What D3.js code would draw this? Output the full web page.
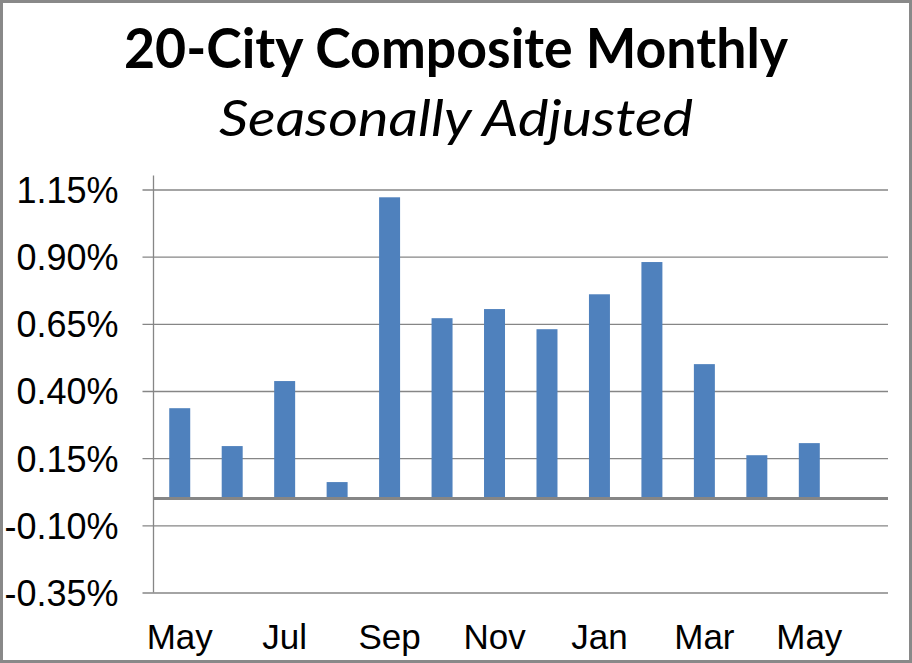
<!DOCTYPE html>
<html lang="en">
<head>
  <meta charset="UTF-8">
  <title>20-City Composite Monthly</title>
  <script src="https://cdn.jsdelivr.net/npm/d3@7"></script>
  <style>
    body { margin: 0; background: #fff; }
  </style>
</head>
<body>
  <svg width="912" height="663" id="mainsvg"></svg>
  <script>
    // one slot per month, last slot left empty like the original
    const months = ['May','Jun','Jul','Aug','Sep','Oct','Nov','Dec','Jan','Feb','Mar','Apr','May','Jun']
    const values = [0.336, 0.195, 0.437, 0.061, 1.121, 0.671, 0.705, 0.630, 0.760, 0.880, 0.500, 0.161, 0.206]
    const yTicks = [-0.35, -0.10, 0.15, 0.40, 0.65, 0.90, 1.15]

    const svg = d3.select('#mainsvg')
    const width = +svg.attr('width')
    const height = +svg.attr('height')
    const margin = {top:189.5, right:24, bottom:70.5, left:153.5}
    const innerWidth = width - margin.left - margin.right
    const innerHeight = height - margin.top - margin.bottom

    svg.append('rect')
      .attr('x',1.5).attr('y',1.5)
      .attr('width',width-3).attr('height',height-3)
      .attr('fill','#fff').attr('stroke','#898989').attr('stroke-width',3)

    svg.append('text').text('20-City Composite Monthly')
      .attr('x',width/2).attr('y',68)
      .attr('text-anchor','middle')
      .attr('font-family','Lato, "Open Sans", sans-serif')
      .attr('font-weight','bold').attr('font-size',55)
      .attr('textLength',664).attr('lengthAdjust','spacingAndGlyphs')

    svg.append('text').text('Seasonally Adjusted')
      .attr('x',width/2).attr('y',136)
      .attr('text-anchor','middle')
      .attr('font-family','Lato, "Open Sans", sans-serif')
      .attr('font-style','italic').attr('font-size',50)
      .attr('textLength',474).attr('lengthAdjust','spacingAndGlyphs')

    const g = svg.append('g').attr('transform',`translate(${margin.left},${margin.top})`)

    const xScale = d3.scaleBand()
      .domain(months.map((m,i) => i))
      .range([0,innerWidth])
      .paddingInner(0.6)
      .paddingOuter(0.3)

    const yScale = d3.scaleLinear()
      .domain([-0.35,1.15])
      .range([innerHeight,0])

    // gridlines + left ticks
    const yAxis = d3.axisLeft(yScale)
      .tickValues(yTicks)
      .tickSize(-(innerWidth + 11))
      .tickFormat(d => d.toFixed(2) + '%')
    const ya = g.append('g').attr('transform','translate(-11,0)').call(yAxis)
    ya.select('.domain').remove()
    ya.selectAll('.tick line').attr('stroke','#868686').attr('stroke-width',1.3)
    ya.selectAll('.tick text')
      .attr('x',-24).attr('dy','0.36em')
      .attr('font-family','"Liberation Sans", Arial, sans-serif')
      .attr('font-size',36).attr('fill','#000')

    // vertical axis line
    g.append('line')
      .attr('x1',0).attr('x2',0)
      .attr('y1',-14).attr('y2',innerHeight)
      .attr('stroke','#868686').attr('stroke-width',1.3)

    g.selectAll('rect.bar')
      .data(values)
      .join('rect')
      .attr('class','bar')
      .attr('x',(d,i) => xScale(i))
      .attr('width',xScale.bandwidth())
      .attr('y',d => yScale(Math.max(0,d)))
      .attr('height',d => Math.abs(yScale(d) - yScale(0)))
      .attr('fill','#4f81bd')

    // zero line
    g.append('line')
      .attr('x1',0).attr('x2',innerWidth)
      .attr('y1',yScale(0)).attr('y2',yScale(0))
      .attr('stroke','#868686').attr('stroke-width',3)

    // x labels every other month
    const xAxis = d3.axisBottom(xScale)
      .tickValues(months.map((m,i) => i).filter(i => i % 2 === 0 && i < values.length))
      .tickSize(0)
      .tickFormat(i => months[i])
    const xa = g.append('g').attr('transform',`translate(0,${innerHeight})`).call(xAxis)
    xa.select('.domain').remove()
    xa.selectAll('.tick text')
      .attr('y',56).attr('dy',0)
      .attr('font-family','"Liberation Sans", Arial, sans-serif')
      .attr('font-size',35).attr('fill','#000')
  </script>
</body>
</html>
